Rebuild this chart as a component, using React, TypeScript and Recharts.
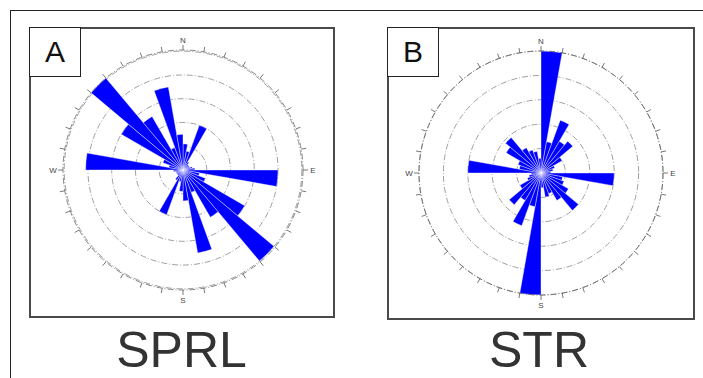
import React from 'react';
import { RadialBarChart, RadialBar, PolarAngleAxis, PolarRadiusAxis, PolarGrid } from 'recharts';

// 10-degree compass bins (start of each bin, clockwise from North)
const bins = ['0','10','20','30','40','50','60','70','80','90','100','110','120','130','140','150','160','170','180','190','200','210','220','230','240','250','260','270','280','290','300','310','320','330','340','350'];

const sprlValues = [1.1,0.8,2.0,0.4,0.3,0.3,0.3,0.4,0.5,4.0,0.7,1.0,3.0,5.0,2.3,1.0,3.55,1.3,0.9,0.5,2.0,0.5,0.3,0.3,0.3,0.3,0.4,4.1,0.6,0.9,3.0,5.05,2.6,1.0,3.55,1.5];
const strValues = [5.0,1.3,2.3,1.5,1.7,1.0,0.6,0.5,0.4,3.0,0.9,1.0,1.3,2.0,1.3,0.9,1.0,0.6,5.0,1.4,2.3,1.3,1.7,1.0,0.6,0.5,0.4,3.0,0.9,1.0,1.65,1.9,1.2,1.0,0.9,0.6];

const compassLabels: Record<number, string> = { 0: 'N', 90: 'E', 180: 'S', 270: 'W' };
const ringTicks = [0, 1, 2, 3, 4, 5];

const panelTitles = ['SPRL', 'STR'];
const panelLetters = ['A', 'B'];

const FONT = '"Liberation Sans", Arial, sans-serif';

type RoseProps = { values: number[]; width: number; height: number; cx: number; cy: number; r: number };

function Rose({ values, width, height, cx, cy, r }: RoseProps) {
  const data = bins.map((b, i) => ({ bin: b, v: values[i] }));
  // Recharts places each category tick at the far edge of its band (bin end),
  // so the tick of bin X sits at compass X + 10.
  const renderTick = (props: any) => {
    const { x, y, payload } = props;
    const deg = (Number(payload.value) + 10) % 360;
    const label = compassLabels[deg];
    if (!label) return <g />;
    const dx = x - cx;
    const dy = y - cy;
    const len = Math.sqrt(dx * dx + dy * dy) || 1;
    const ox = x + (dx / len) * 5;
    const oy = y + (dy / len) * 5;
    return (
      <text x={ox} y={oy} textAnchor="middle" dominantBaseline="central" fontSize={8} fill="#444" fontFamily={FONT}>
        {label}
      </text>
    );
  };
  return (
    <RadialBarChart
      width={width}
      height={height}
      data={data}
      cx={cx}
      cy={cy}
      innerRadius={0}
      outerRadius={r}
      startAngle={80}
      endAngle={-280}
      layout="centric"
      barCategoryGap={0}
      barGap={0}
      margin={{ top: 0, right: 0, bottom: 0, left: 0 }}
    >
      <PolarGrid gridType="circle" radialLines={false} stroke="#888" strokeWidth={0.8} strokeDasharray="6 2 1 2" />
      <PolarAngleAxis
        dataKey="bin"
        type="category"
        axisLineType="circle"
        axisLine={{ stroke: '#666', strokeWidth: 0.8, strokeDasharray: '6 2 1 2' }}
        tickLine={{ stroke: '#555', strokeWidth: 0.8 }}
        tickSize={5}
        tick={renderTick}
      />
      <PolarRadiusAxis type="number" domain={[0, 5]} ticks={ringTicks} tick={false} axisLine={false} />
      <RadialBar dataKey="v" fill="#0000ff" stroke="#ffffff" strokeWidth={0.4} isAnimationActive={false} />
    </RadialBarChart>
  );
}

export default function App() {
  const panels = [
    { left: 29, top: 27, w: 306, h: 291, cx: 154, cy: 143, r: 120, values: sprlValues, titleX: 181.5 },
    { left: 387, top: 27, w: 308, h: 293, cx: 154, cy: 146, r: 122, values: strValues, titleX: 539 },
  ];
  return (
    <div style={{ position: 'absolute', left: 0, top: 0, width: 703, height: 378, overflow: 'hidden', background: '#fff', fontFamily: FONT }}>
      <div style={{ position: 'absolute', left: 10, top: 10, width: 800, height: 500, border: '1.5px solid #222', boxSizing: 'border-box' }} />
      {panels.map((p, i) => (
        <React.Fragment key={i}>
          <div style={{ position: 'absolute', left: p.left, top: p.top, width: p.w, height: p.h, border: '2px solid #4a4a4a', boxSizing: 'border-box', background: '#fff' }}>
            <div style={{ position: 'absolute', left: 0, top: 0 }}>
              <Rose values={p.values} width={p.w - 4} height={p.h - 4} cx={p.cx - 2} cy={p.cy - 2} r={p.r} />
            </div>
            <div style={{ position: 'absolute', left: -2, top: -2, width: 52, height: 50, border: '1.5px solid #222', boxSizing: 'border-box', background: '#fff', display: 'flex', alignItems: 'center', justifyContent: 'center', fontSize: 30, color: '#111' }}>
              {panelLetters[i]}
            </div>
          </div>
          <div style={{ position: 'absolute', left: p.titleX - 100, top: 322, width: 200, textAlign: 'center', fontSize: 50, lineHeight: '56px', color: '#333' }}>
            {panelTitles[i]}
          </div>
        </React.Fragment>
      ))}
    </div>
  );
}
